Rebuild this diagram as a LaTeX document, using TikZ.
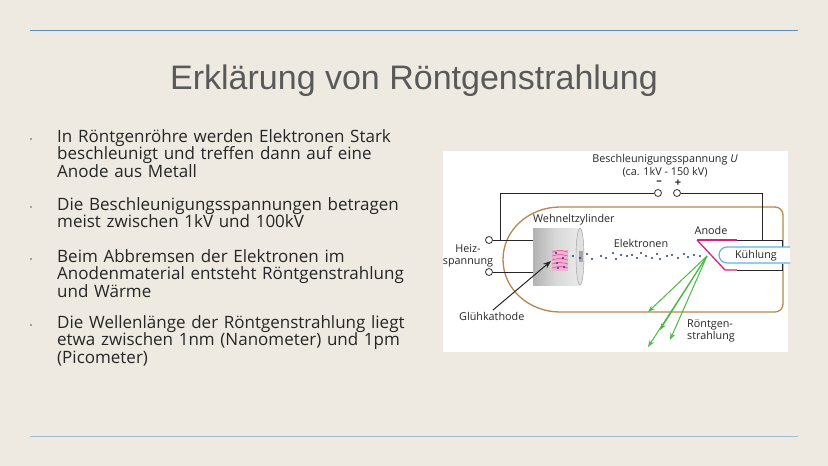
\documentclass[tikz,border=0pt]{standalone}
\usepackage{fontspec}
\setmainfont{Open Sans}
\newfontfamily\titlefont{Liberation Sans}
\newfontfamily\dfont{Open Sans}
\usetikzlibrary{arrows.meta}
\definecolor{bg}{HTML}{EEEAE1}
\definecolor{rule}{HTML}{5E8FB8}
\definecolor{tube}{HTML}{B8864E}
\definecolor{mag}{HTML}{D4237F}
\definecolor{cool}{HTML}{5AB4E6}
\definecolor{grn}{HTML}{4CB848}
\definecolor{dot}{HTML}{1F3C8A}
\begin{document}
\begin{tikzpicture}[x=1pt,y=-1pt,
  bul/.style={anchor=north west,text width=380pt,align=left,inner sep=0pt,font=\fontsize{17}{17.6}\selectfont,text=black!85},
  lab/.style={font=\dfont\fontsize{10.8}{12}\selectfont,inner sep=0pt,align=center,text=black!85},
  wire/.style={draw=black!85,line width=1pt},
  term/.style={circle,draw=black!80,fill=white,minimum size=7pt,inner sep=0pt,line width=0.8pt}]
\useasboundingbox (0,0) rectangle (828,466);
\fill[bg] (0,0) rectangle (828,466);
\draw[rule,line width=1pt] (30,30) -- (798,30);
\draw[rule!60,line width=0.8pt] (30,436) -- (798,436);
\node[font=\titlefont\fontsize{34}{38}\selectfont,text=black!65] (title) at (414,81) {Erklärung von Röntgenstrahlung};
\foreach \yy in {139,207,259,325} \fill[black!45] (31,\yy) circle (1.1pt);
\node[bul] (b1) at (57,129) {In Röntgenröhre werden Elektronen Stark\\beschleunigt und treffen dann auf eine\\Anode aus Metall};
\node[bul] (b2) at (57,197) {Die Beschleunigungsspannungen betragen\\meist zwischen 1kV und 100kV};
\node[bul] (b3) at (57,249) {Beim Abbremsen der Elektronen im\\Anodenmaterial entsteht Röntgenstrahlung\\und Wärme};
\node[bul] (b4) at (57,315) {Die Wellenlänge der Röntgenstrahlung liegt\\etwa zwischen 1nm (Nanometer) und 1pm\\(Picometer)};
% diagram
\fill[white] (443,151) rectangle (788,352);
\draw[tube,line width=1.3pt] (560,207) -- (775,207) to[out=0,in=90] (783,215) -- (783,304) to[out=-90,in=0] (775,312) -- (560,312) to[out=180,in=-90] (503,259.5) to[out=90,in=180] (560,207);
% cylinder
\shade[left color=black!30,right color=black!8,middle color=black!15] (533,228) rectangle (580,285);
\draw[black!40,fill=black!12] (580,256.5) ellipse (4pt and 28.5pt);
\fill[black!35] (579,251) rectangle (583,262);
\fill[mag!35] (552,250) rectangle (568,271);
\foreach \yy in {252,256,260,264,268} \draw[mag!80,line width=0.6pt] (552,\yy) .. controls (560,\yy-2) .. (568,\yy);
\foreach \p in {(556,253),(563,258),(557,263),(564,267),(558,268)} \fill[dot] \p circle (1.2pt);
% electrons
\foreach \p in {(573,256),(580,258),(587,254),(592,259),(601,256),(606,258),(613,253),(616,259),(621,255),(627,256),(632,255),(637,258),(641,253),(646,256),(652,258),(657,254),(660,259),(667,256),(672,255),(678,258),(684,254),(688,257),(694,255),(700,256)} \fill[dot] \p circle (1.2pt);
% terminals & wires
\node[term] (h1) at (489,240) {};
\node[term] (h2) at (489,272) {};
\node[term] (tm) at (658,193) {};
\node[term] (tp) at (677,193) {};
\coordinate (c1) at (533,240);
\coordinate (c2) at (533,272);
\coordinate (k1) at (500,240);
\coordinate (a1) at (762,240);
\draw[wire] (h1) -- (c1);
\draw[wire] (h2) -- (c2);
\draw[wire] (k1) |- (tm);
\draw[wire] (tp) -| (a1);
% anode
\draw[mag,line width=1.3pt] (697,240) -- (737,240);
\draw[mag,line width=1.3pt] (697,240) -- (725,270) -- (737,270);
\draw[black!85,line width=1pt] (737,240) -- (782,240) -- (782,270) -- (737,270);
\fill[white] (720,247) rectangle (790,264);
\draw[cool,line width=1.2pt] (790,247) -- (727,247) arc (90:270:8pt) -- (790,263);
% x-rays
\coordinate (hit) at (707,256);
\foreach \e in {(648,312),(648,347),(670,340),(660,330)} \draw[grn,line width=1pt,-{Stealth[length=7pt,width=5pt]}] (hit) -- \e;
% arrow to cathode
\node[lab,anchor=north west] (gk) at (459,312) {Glühkathode};
\draw[black!85,line width=1pt,-{Stealth[length=8pt,width=6pt]}] (493,310) -- (551,261);
% labels
\node[lab] (bs) at (665,160) {Beschleunigungsspannung \textit{U}};
\node[lab] (ca) at (665,172) {(ca. 1kV - 150 kV)};
\node[lab,font=\dfont\bfseries\fontsize{11}{12}\selectfont] at (659,183) {–};
\node[lab,font=\dfont\bfseries\fontsize{11}{12}\selectfont] at (678,183) {+};
\node[lab,anchor=west] (wz) at (533,220) {Wehneltzylinder};
\node[lab] (el) at (641,243) {Elektronen};
\node[lab] (an) at (711,230) {Anode};
\node[lab] (ku) at (756,256) {Kühlung};
\node[lab] (hz) at (468,256) {Heiz-\\spannung};
\node[lab,align=left,anchor=north west] (rs) at (687,319) {Röntgen-\\strahlung};
\end{tikzpicture}
\end{document}
